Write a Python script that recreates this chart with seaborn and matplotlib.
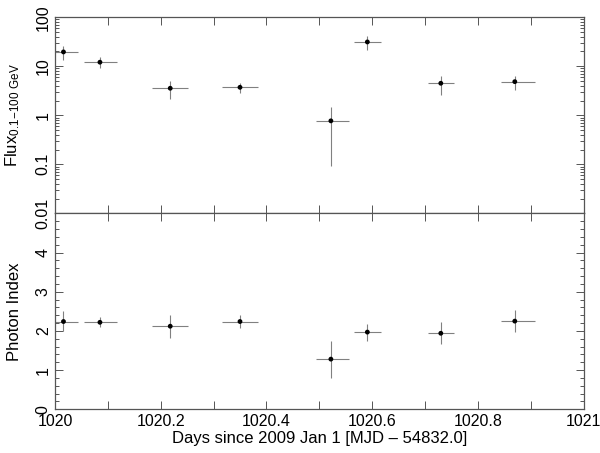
import numpy as np
import pandas as pd
import matplotlib
matplotlib.use('Agg')
import matplotlib.pyplot as plt
import seaborn as sns
from matplotlib.ticker import MultipleLocator, LogLocator, FixedLocator, NullFormatter

# Light curve data (days since 2009 Jan 1)
time = [1020.016, 1020.085, 1020.218, 1020.350, 1020.522, 1020.591, 1020.730, 1020.870]
time_lo = [1020.000, 1020.054, 1020.184, 1020.316, 1020.493, 1020.566, 1020.705, 1020.843]
time_hi = [1020.043, 1020.117, 1020.252, 1020.385, 1020.557, 1020.617, 1020.755, 1020.908]

flux = [19.6, 12.1, 3.56, 3.72, 0.77, 31.3, 4.5, 4.85]
flux_lo = [13.5, 9.4, 2.15, 2.9, 0.094, 21.5, 2.6, 3.3]
flux_hi = [26.3, 15.7, 5.0, 4.5, 1.46, 41.5, 6.3, 6.4]

index = [2.24, 2.22, 2.12, 2.24, 1.28, 1.97, 1.94, 2.25]
index_lo = [2.00, 2.10, 1.83, 2.08, 0.81, 1.75, 1.67, 1.96]
index_hi = [2.50, 2.35, 2.40, 2.41, 1.75, 2.18, 2.24, 2.54]

df = pd.DataFrame({'time': time, 'flux': flux, 'index': index})

sns.set_theme(style='ticks')
plt.rcParams['font.family'] = ['Liberation Sans', 'DejaVu Sans']
plt.rcParams['mathtext.default'] = 'regular'
plt.rcParams['text.color'] = 'black'
plt.rcParams['axes.labelcolor'] = 'black'
plt.rcParams['xtick.labelcolor'] = 'black'
plt.rcParams['ytick.labelcolor'] = 'black'

fig = plt.figure(figsize=(6, 4.53), dpi=100)
ax1 = fig.add_axes([0.0917, 0.529, 0.8808, 0.433])
ax2 = fig.add_axes([0.0917, 0.0965, 0.8808, 0.4325], sharex=ax1)

grey = '#808080'
xerr = [np.array(time) - np.array(time_lo), np.array(time_hi) - np.array(time)]

# Flux panel
ax1.errorbar(time, flux, xerr=xerr,
             yerr=[np.array(flux) - np.array(flux_lo), np.array(flux_hi) - np.array(flux)],
             fmt='none', ecolor=grey, elinewidth=0.8, capsize=0)
sns.scatterplot(data=df, x='time', y='flux', ax=ax1, color='black', s=12,
                edgecolor='none', zorder=3)
ax1.set_yscale('log')
ax1.set_ylim(0.01, 100)
ax1.set_ylabel(r'Flux$_{0.1\!-\!100\ GeV}$', fontsize=12)
ax1.yaxis.set_minor_locator(LogLocator(base=10, subs=np.arange(2, 10), numticks=10))
ax1.yaxis.set_minor_formatter(NullFormatter())
ax1.set_yticks([0.01, 0.1, 1, 10, 100])
ax1.set_yticklabels(['0.01', '0.1', '1', '10', '100'])
ax1.set_xlabel('')
plt.setp(ax1.get_xticklabels(), visible=False)

# Photon index panel
ax2.errorbar(time, index, xerr=xerr,
             yerr=[np.array(index) - np.array(index_lo), np.array(index_hi) - np.array(index)],
             fmt='none', ecolor=grey, elinewidth=0.8, capsize=0)
sns.scatterplot(data=df, x='time', y='index', ax=ax2, color='black', s=12,
                edgecolor='none', zorder=3)
ax2.set_ylim(0, 5)
ax2.yaxis.set_major_locator(FixedLocator([0, 1, 2, 3, 4]))
ax2.yaxis.set_minor_locator(MultipleLocator(0.2))
ax2.set_ylabel('Photon Index', fontsize=12)
ax2.set_xlim(1020, 1021)
ax2.xaxis.set_major_locator(MultipleLocator(0.2))
ax2.xaxis.set_minor_locator(MultipleLocator(0.1))
ax2.xaxis.set_major_formatter(matplotlib.ticker.FuncFormatter(lambda v, p: f'{v:g}'))
ax2.set_xlabel('Days since 2009 Jan 1 [MJD \u2013 54832.0]', fontsize=12, labelpad=1)

for ax in (ax1, ax2):
    for s in ax.spines.values():
        s.set_color('#555555')
        s.set_linewidth(0.9)
    ax.tick_params(which='both', direction='in', top=True, right=True,
                   color='#555555', labelcolor='black', labelsize=11.5, width=0.7)
    ax.tick_params(which='major', length=6)
    ax.tick_params(which='minor', length=3)
    ax.tick_params(axis='x', which='minor', length=6)
    ax.tick_params(axis='y', labelrotation=90, pad=3)
    for lab in ax.get_yticklabels():
        lab.set_verticalalignment('center')

ax1.yaxis.set_label_coords(-0.062, 0.5)
ax2.yaxis.set_label_coords(-0.062, 0.5)

fig.savefig('out.png', dpi=100)
